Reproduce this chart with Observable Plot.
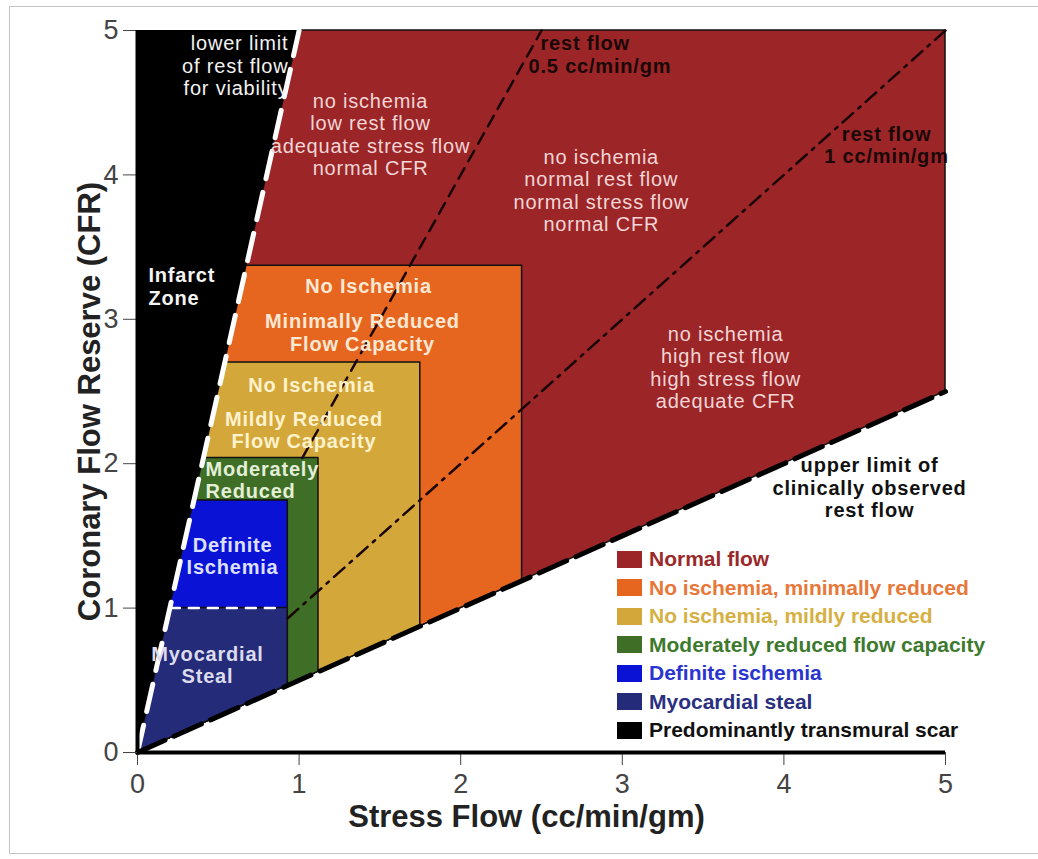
<!DOCTYPE html>
<html>
<head>
<meta charset="utf-8">
<script src="https://cdn.jsdelivr.net/npm/d3@7"></script>
<script src="https://cdn.jsdelivr.net/npm/@observablehq/plot@0.6"></script>
<style>
  html, body { margin: 0; padding: 0; background: #fff; }
  #wrap { position: relative; width: 1038px; height: 859px; overflow: hidden; font-family: "Liberation Sans", Arial, sans-serif; }
  #frame { position: absolute; left: 9px; top: 6px; width: 1040px; height: 848px; border: 1.5px solid #c4c4c4; box-sizing: border-box; }
  #chart { position: absolute; left: 0; top: 0; }
  #legend { position: absolute; left: 617px; top: 545px; }
  .row { display: flex; align-items: center; height: 28.5px; font-weight: bold; font-size: 21px; white-space: nowrap; }
  .sw { width: 25px; height: 17px; margin-right: 7px; }
  .ann text { letter-spacing: 0.8px; }
</style>
</head>
<body>
<div id="wrap">
  <div id="frame"></div>
  <div id="chart"></div>
  <div id="legend"></div>
</div>
<script>
// ---- data ----
const zones = ["Normal flow", "No ischemia, minimally reduced", "No ischemia, mildly reduced",
  "Moderately reduced flow capacity", "Definite ischemia", "Myocardial steal", "Predominantly transmural scar"];
const zoneFill = ["#9b2527", "#e6661f", "#d3a73a", "#3f6e26", "#0a12d6", "#242b78", "#000000"];
const zoneLegendText = ["#9a2a2a", "#e8773a", "#d6b042", "#3e7a2e", "#2a35d0", "#2a2f80", "#111111"];
const zoneMaxStress = [5, 2.38, 1.75, 1.12, 0.93, 0.93];   // right edge of each box (cc/min/gm)
const zoneMaxCFR = [5, 3.37, 2.70, 2.04, 1.745, 1.0];      // top edge of each box (CFR)
const viabilityRestFlow = 0.2;   // lower limit of rest flow for viability
const upperRestFlow = 2;         // upper limit of clinically observed rest flow
const isoRestFlows = [0.5, 1];   // rest-flow isolines
const isoStart = [1.02, 0.93];   // stress flow where each isoline starts
const stealLine = {cfr: 1, from: 0.2, to: 0.88};
const xTicks = [0, 1, 2, 3, 4, 5];
const yTicks = [0, 1, 2, 3, 4, 5];
const xLabel = "Stress Flow (cc/min/gm)";
const yLabel = "Coronary Flow Reserve (CFR)";

const annotations = [
  {text: "lower limit\nof rest flow\nfor viability", x: 0.934, y: 4.757, anchor: "end", weight: "normal", fill: "#f2f2f2"},
  {text: "no ischemia\nlow rest flow\nadequate stress flow\nnormal CFR", x: 1.442, y: 4.28, anchor: "middle", weight: "normal", fill: "#f3d6d6"},
  {text: "no ischemia\nnormal rest flow\nnormal stress flow\nnormal CFR", x: 2.87, y: 3.892, anchor: "middle", weight: "normal", fill: "#f3d6d6"},
  {text: "no ischemia\nhigh rest flow\nhigh stress flow\nadequate CFR", x: 3.639, y: 2.666, anchor: "middle", weight: "normal", fill: "#f3d6d6"},
  {text: "rest flow", x: 2.494, y: 4.915, anchor: "start", weight: "bold", fill: "#1a0808"},
  {text: "0.5 cc/min/gm", x: 2.42, y: 4.755, anchor: "start", weight: "bold", fill: "#1a0808"},
  {text: "rest flow\n1 cc/min/gm", x: 4.635, y: 4.21, anchor: "middle", weight: "bold", fill: "#1a0808"},
  {text: "upper limit of\nclinically observed\nrest flow", x: 4.53, y: 1.835, anchor: "middle", weight: "bold", fill: "#111"},
  {text: "Infarct\nZone", x: 0.068, y: 3.227, anchor: "start", weight: "bold", fill: "#f4f4f4"},
  {text: "No Ischemia", x: 1.43, y: 3.235, anchor: "middle", weight: "bold", fill: "#fde8d4"},
  {text: "Minimally Reduced\nFlow Capacity", x: 1.392, y: 2.909, anchor: "middle", weight: "bold", fill: "#fde8d4"},
  {text: "No Ischemia", x: 1.077, y: 2.545, anchor: "middle", weight: "bold", fill: "#fff2cc"},
  {text: "Mildly Reduced\nFlow Capacity", x: 1.03, y: 2.235, anchor: "middle", weight: "bold", fill: "#fff2cc"},
  {text: "Moderately\nReduced", x: 0.421, y: 1.89, anchor: "start", weight: "bold", fill: "#e4efd8"},
  {text: "Definite\nIschemia", x: 0.588, y: 1.364, anchor: "middle", weight: "bold", fill: "#dde0ff"},
  {text: "Myocardial\nSteal", x: 0.433, y: 0.609, anchor: "middle", weight: "bold", fill: "#dcdcee"}
];

// ---- build zone polygons (box clipped to the wedge between the two rest-flow limits) ----
function zonePoints(sMax, cMax) {
  return [
    {x: 0, y1: 0, y2: 0},
    {x: cMax * viabilityRestFlow, y1: cMax * viabilityRestFlow / upperRestFlow, y2: cMax},
    {x: sMax, y1: sMax / upperRestFlow, y2: cMax}
  ];
}
const zoneMarks = zoneMaxStress.map((s, i) =>
  Plot.areaY(zonePoints(s, zoneMaxCFR[i]), {x: "x", y1: "y1", y2: "y2", fill: zoneFill[i], stroke: "#111", strokeWidth: 1.5})
);
const infarct = Plot.areaY(
  [{x: 0, y1: 0, y2: 5}, {x: 5 * viabilityRestFlow, y1: 5, y2: 5}],
  {x: "x", y1: "y1", y2: "y2", fill: zoneFill[6]}
);
function restLine(r, x0, x1) {
  const xe = Math.min(x1, 5 * r);
  return [{x: x0, y: x0 / r}, {x: xe, y: xe / r}];
}

const font = "Liberation Sans, Arial, Helvetica, sans-serif";
const textMarks = annotations.map(a => Plot.text([a], {
  x: "x", y: "y", text: "text", textAnchor: a.anchor, fontWeight: a.weight, fill: a.fill,
  fontSize: 20, lineHeight: 1.12, fontFamily: font, className: "ann"
}));

const chart = Plot.plot({
  width: 1038, height: 859,
  marginLeft: 137, marginRight: 93, marginTop: 30, marginBottom: 107,
  x: {domain: [0, 5]},
  y: {domain: [0, 5]},
  style: {fontFamily: font, background: "transparent", overflow: "visible"},
  marks: [
    ...zoneMarks,
    infarct,
    Plot.line(restLine(isoRestFlows[0], isoStart[0], 5), {x: "x", y: "y", stroke: "#1a0505", strokeWidth: 2.5, strokeDasharray: "12,8"}),
    Plot.line(restLine(isoRestFlows[1], isoStart[1], 5), {x: "x", y: "y", stroke: "#1a0505", strokeWidth: 2.5, strokeDasharray: "14,7,3,7"}),
    Plot.line([{x: stealLine.from, y: stealLine.cfr}, {x: stealLine.to, y: stealLine.cfr}], {x: "x", y: "y", stroke: "#fff", strokeWidth: 2.5, strokeDasharray: "10,9"}),
    Plot.line(restLine(viabilityRestFlow, 0, 5), {x: "x", y: "y", stroke: "#fff", strokeWidth: 5, strokeDasharray: "28,14"}),
    Plot.line(restLine(upperRestFlow, 0, 5), {x: "x", y: "y", stroke: "#000", strokeWidth: 5, strokeDasharray: "30,10"}),
    Plot.axisX({ticks: xTicks, tickSize: 13, tickPadding: 8, fontSize: 27, color: "#444", label: null, tickFormat: d3.format("d")}),
    Plot.axisY({ticks: yTicks, tickSize: 14, tickPadding: 5, fontSize: 27, color: "#444", label: null, tickFormat: d3.format("d")}),
    Plot.ruleX([0], {stroke: "#000", strokeWidth: 4}),
    Plot.ruleY([0], {stroke: "#000", strokeWidth: 4}),
    ...textMarks,
    Plot.text([xLabel], {frameAnchor: "bottom", textAnchor: "middle", dx: -15, dy: 74, fontSize: 31, fontWeight: "bold", fill: "#222", fontFamily: font}),
    Plot.text([yLabel], {frameAnchor: "left", textAnchor: "middle", rotate: -90, dx: -47, dy: 10, fontSize: 31, fontWeight: "bold", fill: "#222", fontFamily: font})
  ]
});
document.getElementById("chart").appendChild(chart);

// ---- legend ----
const legend = document.getElementById("legend");
zones.forEach((z, i) => {
  const row = document.createElement("div");
  row.className = "row";
  const sw = document.createElement("span");
  sw.className = "sw";
  sw.style.background = zoneFill[i];
  const t = document.createElement("span");
  t.textContent = z;
  t.style.color = zoneLegendText[i];
  row.appendChild(sw);
  row.appendChild(t);
  legend.appendChild(row);
});
</script>
</body>
</html>
